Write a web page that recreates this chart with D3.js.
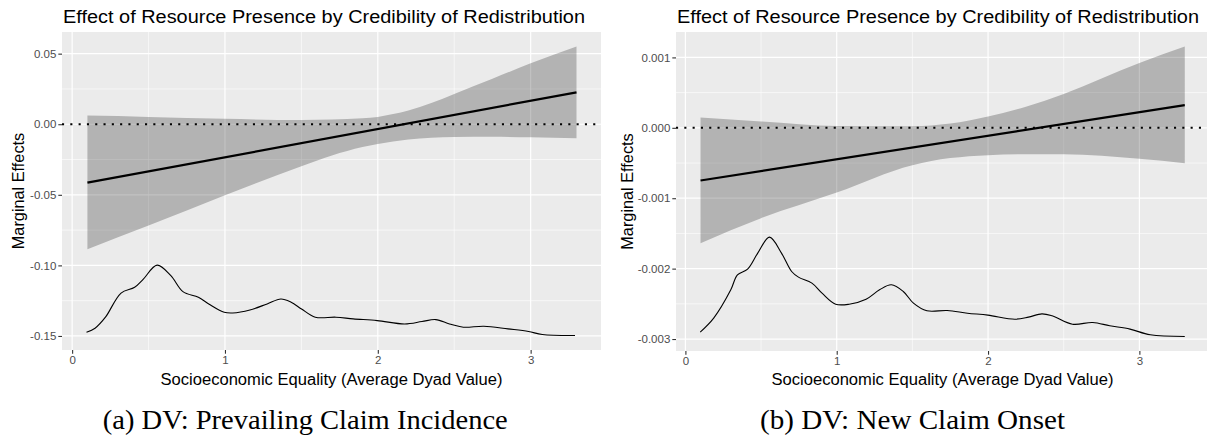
<!DOCTYPE html>
<html>
<head>
<meta charset="utf-8">
<script src="https://cdn.jsdelivr.net/npm/d3@7"></script>
<style>
  body { margin: 0; background: #fff; }
  svg { display: block; }
</style>
</head>
<body>
<div id="chart"></div>
<script>
// ---- data ----
const titleText = "Effect of Resource Presence by Credibility of Redistribution";
const xTitle = "Socioeconomic Equality (Average Dyad Value)";
const yTitle = "Marginal Effects";
const xTicks = [0, 1, 2, 3];
const xTickLabels = ["0", "1", "2", "3"];

// panel (a): prevailing claim incidence
const aCaption = "(a) DV: Prevailing Claim Incidence";
const aBandX = [0.1, 0.5, 1.0, 1.5, 1.7, 1.9, 2.0, 2.1, 2.2, 2.35, 2.5, 2.75, 3.0, 3.3];
const aUpper = [0.0061, 0.0052, 0.0038, 0.0030, 0.0033, 0.0043, 0.0052, 0.0072, 0.0098, 0.0150, 0.0215, 0.0322, 0.0432, 0.0551];
const aLower = [-0.0885, -0.0718, -0.0503, -0.0298, -0.0222, -0.0162, -0.0140, -0.0122, -0.0108, -0.0096, -0.0090, -0.0089, -0.0092, -0.0099];
const aLineX = [0.1, 3.3];
const aLineY = [-0.0414, 0.0226];
const aDensX = [0.094, 0.150, 0.218, 0.320, 0.409, 0.466, 0.556, 0.646, 0.725, 0.826, 0.894, 0.995, 1.051,
  1.163, 1.276, 1.366, 1.433, 1.501, 1.591, 1.726, 1.839, 1.996, 2.176, 2.289, 2.379, 2.469, 2.559,
  2.694, 2.852, 2.986, 3.076, 3.29];
const aDensY = [-0.1473, -0.1445, -0.1367, -0.1196, -0.1155, -0.1097, -0.0998, -0.1073, -0.1186, -0.1226,
  -0.1273, -0.1332, -0.1337, -0.1316, -0.1273, -0.1238, -0.1261, -0.1309, -0.1367, -0.1367, -0.1379,
  -0.1391, -0.1415, -0.1398, -0.1384, -0.1415, -0.1438, -0.1431, -0.1450, -0.1468, -0.1490, -0.1497];
const aYTicks = [-0.15, -0.10, -0.05, 0, 0.05];
const aYTickLabels = ["-0.15", "-0.10", "-0.05", "0.00", "0.05"];

// panel (b): new claim onset
const bCaption = "(b) DV: New Claim Onset";
const bBandX = [0.1, 0.5, 1.0, 1.5, 1.75, 2.0, 2.25, 2.5, 2.75, 3.0, 3.3];
const bUpper = [0.000146, 0.000090, 0.000025, 0.000022, 0.000060, 0.000160, 0.000300, 0.000480, 0.000700, 0.000919, 0.001155];
const bLower = [-0.001638, -0.001283, -0.000919, -0.000530, -0.000430, -0.000388, -0.000374, -0.000376, -0.000395, -0.000440, -0.000502];
const bLineX = [0.1, 3.3];
const bLineY = [-0.000748, 0.000322];
const bDensX = [0.098, 0.187, 0.300, 0.344, 0.411, 0.478, 0.556, 0.635, 0.702, 0.747, 0.836, 0.903, 0.993,
  1.082, 1.194, 1.283, 1.361, 1.440, 1.507, 1.596, 1.730, 1.864, 1.999, 2.177, 2.267, 2.356, 2.423,
  2.558, 2.692, 2.804, 2.938, 3.072, 3.30];
const bDensY = [-0.002902, -0.002703, -0.002301, -0.002088, -0.002007, -0.001780, -0.001553, -0.001780,
  -0.002041, -0.002121, -0.002206, -0.002348, -0.002505, -0.002505, -0.002434, -0.002301, -0.002230,
  -0.002325, -0.002490, -0.002599, -0.002595, -0.002633, -0.002661, -0.002718, -0.002689, -0.002642,
  -0.002670, -0.002789, -0.002765, -0.002812, -0.002859, -0.002940, -0.002964];
const bYTicks = [-0.003, -0.002, -0.001, 0, 0.001];
const bYTickLabels = ["-0.003", "-0.002", "-0.001", "0.000", "0.001"];

const width = 1207;
const height = 436;

const svg = d3.select("#chart")
  .append("svg")
  .attr("width", width)
  .attr("height", height);

function midpoints(t) {
  const m = [];
  for (let i = 0; i < t.length - 1; i++) m.push((t[i] + t[i + 1]) / 2);
  return m;
}

// ggplot-style 5% expansion
function expand(ext) {
  const pad = (ext[1] - ext[0]) * 0.05;
  return [ext[0] - pad, ext[1] + pad];
}

const sans = "'Liberation Sans', Arial, Helvetica, sans-serif";

function drawPanel(p) {
  const g = svg.append("g");
  const allX = p.bandX.concat(p.densX);
  const allY = p.upper.concat(p.lower, p.densY, p.lineY);

  const x = d3.scaleLinear().domain(expand(d3.extent(allX))).range([p.left, p.right]);
  const y = d3.scaleLinear().domain(expand(d3.extent(allY))).range([p.bottom, p.top]);

  const clipId = "clip" + p.id;
  g.append("clipPath").attr("id", clipId)
    .append("rect")
    .attr("x", p.left).attr("y", p.top)
    .attr("width", p.right - p.left).attr("height", p.bottom - p.top);

  // panel background
  g.append("rect")
    .attr("x", p.left).attr("y", p.top)
    .attr("width", p.right - p.left).attr("height", p.bottom - p.top)
    .attr("fill", "#EBEBEB");

  const xMinor = midpoints(xTicks).concat([xTicks[xTicks.length - 1] + 0.5]);
  const yMinor = midpoints(p.yTicks);

  // minor grid
  g.selectAll(".xminor").data(xMinor.filter(v => x(v) > p.left && x(v) < p.right))
    .enter().append("line")
    .attr("x1", d => x(d)).attr("x2", d => x(d))
    .attr("y1", p.top).attr("y2", p.bottom)
    .attr("stroke", "#fff").attr("stroke-width", 0.6);
  g.selectAll(".yminor").data(yMinor)
    .enter().append("line")
    .attr("x1", p.left).attr("x2", p.right)
    .attr("y1", d => y(d)).attr("y2", d => y(d))
    .attr("stroke", "#fff").attr("stroke-width", 0.6);

  // major grid
  g.selectAll(".xmajor").data(xTicks)
    .enter().append("line")
    .attr("x1", d => x(d)).attr("x2", d => x(d))
    .attr("y1", p.top).attr("y2", p.bottom)
    .attr("stroke", "#fff").attr("stroke-width", 1.2);
  g.selectAll(".ymajor").data(p.yTicks)
    .enter().append("line")
    .attr("x1", p.left).attr("x2", p.right)
    .attr("y1", d => y(d)).attr("y2", d => y(d))
    .attr("stroke", "#fff").attr("stroke-width", 1.2);

  const plot = g.append("g").attr("clip-path", `url(#${clipId})`);

  // confidence ribbon (translucent, grid shows through)
  const band = p.bandX.map((v, i) => ({ x: v, lo: p.lower[i], hi: p.upper[i] }));
  plot.append("path")
    .datum(band)
    .attr("fill", "#000")
    .attr("fill-opacity", 0.24)
    .attr("d", d3.area()
      .x(d => x(d.x))
      .y0(d => y(d.lo))
      .y1(d => y(d.hi))
      .curve(d3.curveMonotoneX));

  // dotted zero line
  plot.append("line")
    .attr("x1", p.left).attr("x2", p.right)
    .attr("y1", y(0)).attr("y2", y(0))
    .attr("stroke", "#000")
    .attr("stroke-width", 2.1)
    .attr("stroke-dasharray", "2.1,6.2");

  // marginal effect line
  plot.append("path")
    .datum(p.lineX.map((v, i) => [v, p.lineY[i]]))
    .attr("fill", "none")
    .attr("stroke", "#000")
    .attr("stroke-width", 2.2)
    .attr("d", d3.line().x(d => x(d[0])).y(d => y(d[1])));

  // density curve
  plot.append("path")
    .datum(p.densX.map((v, i) => [v, p.densY[i]]))
    .attr("fill", "none")
    .attr("stroke", "#000")
    .attr("stroke-width", 1.1)
    .attr("d", d3.line().x(d => x(d[0])).y(d => y(d[1])).curve(d3.curveCatmullRom));

  // axes
  const yAxis = d3.axisLeft(y)
    .tickValues(p.yTicks)
    .tickFormat((d, i) => p.yTickLabels[i])
    .tickSize(3.7)
    .tickPadding(2);
  const ya = g.append("g").attr("transform", `translate(${p.left},0)`).call(yAxis);

  const xAxis = d3.axisBottom(x)
    .tickValues(xTicks)
    .tickFormat((d, i) => xTickLabels[i])
    .tickSize(3.7)
    .tickPadding(2.5);
  const xa = g.append("g").attr("transform", `translate(0,${p.bottom})`).call(xAxis);

  [ya, xa].forEach(a => {
    a.select(".domain").remove();
    a.selectAll(".tick line").attr("stroke", "#333").attr("stroke-width", 1.1);
    a.selectAll(".tick text")
      .attr("fill", "#4D4D4D")
      .style("font-family", sans)
      .style("font-size", "11.5px");
  });

  // titles
  g.append("text")
    .attr("x", p.left + 1)
    .attr("y", 22.5)
    .attr("textLength", 522)
    .attr("lengthAdjust", "spacingAndGlyphs")
    .style("font-family", sans)
    .style("font-size", "17.6px")
    .attr("fill", "#000")
    .text(titleText);

  g.append("text")
    .attr("x", (p.left + p.right) / 2)
    .attr("y", 385)
    .attr("text-anchor", "middle")
    .attr("textLength", 342)
    .attr("lengthAdjust", "spacingAndGlyphs")
    .style("font-family", sans)
    .style("font-size", "15.6px")
    .attr("fill", "#000")
    .text(xTitle);

  g.append("text")
    .attr("transform", `translate(${p.yTitleX},${(p.top + p.bottom) / 2}) rotate(-90)`)
    .attr("text-anchor", "middle")
    .attr("dy", "0.35em")
    .style("font-family", sans)
    .style("font-size", "16.3px")
    .attr("fill", "#000")
    .text(yTitle);

  // sub-figure caption
  g.append("text")
    .attr("x", p.captionX)
    .attr("y", 428.5)
    .attr("text-anchor", "middle")
    .attr("textLength", p.captionLen)
    .attr("lengthAdjust", "spacingAndGlyphs")
    .style("font-family", "'Liberation Serif', 'DejaVu Serif', serif")
    .style("font-size", "28px")
    .attr("fill", "#000")
    .text(p.caption);
}

drawPanel({
  id: "a", left: 62, right: 601, top: 32, bottom: 350,
  yTitleX: 18.5, captionX: 305.3, captionLen: 405,
  bandX: aBandX, upper: aUpper, lower: aLower, lineX: aLineX, lineY: aLineY,
  densX: aDensX, densY: aDensY, yTicks: aYTicks, yTickLabels: aYTickLabels, caption: aCaption
});

drawPanel({
  id: "b", left: 676, right: 1209, top: 32, bottom: 351,
  yTitleX: 627, captionX: 912.5, captionLen: 305,
  bandX: bBandX, upper: bUpper, lower: bLower, lineX: bLineX, lineY: bLineY,
  densX: bDensX, densY: bDensY, yTicks: bYTicks, yTickLabels: bYTickLabels, caption: bCaption
});
</script>
</body>
</html>
